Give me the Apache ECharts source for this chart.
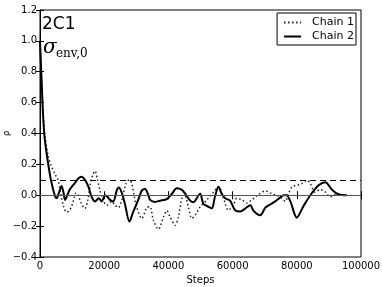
<!DOCTYPE html>
<html>
<head>
<meta charset="utf-8">
<script src="https://cdn.jsdelivr.net/npm/echarts@6/dist/echarts.min.js"></script>
<style>html,body{margin:0;padding:0;background:#fff}#c{width:382px;height:287px}</style>
</head>
<body>
<div id="c"></div>
<script>
var chain1Steps = [0,500,1000,1500,2500,3500,4600,5600,6300,7300,8300,9100,9900,10600,11200,11900,12800,14000,14800,15600,16400,17150,17900,18700,19600,20800,22300,23400,24400,25500,26800,27850,28600,29300,30100,31700,33300,34300,35300,36900,38500,39500,40500,42100,43100,44200,45200,46200,47300,48300,49900,52000,54000,55600,57200,58700,60300,61300,62900,64400,66000,68100,70200,72200,73800,75400,76400,77400,78500,80000,81600,83200,84200,85700,87300,88900,90400,91500,93000,94600];
var chain1Rho = [1.0,0.74,0.53,0.39,0.26,0.19,0.14,0.1,0.03,-0.07,-0.11,-0.10,-0.07,-0.02,0.015,0.0,-0.05,-0.086,-0.04,0.06,0.13,0.157,0.10,0.03,-0.03,-0.065,-0.04,-0.065,-0.08,-0.03,0.076,0.10,0.076,0.0,-0.075,-0.15,-0.08,-0.075,-0.16,-0.22,-0.14,-0.10,-0.14,-0.195,-0.14,-0.02,-0.01,-0.075,-0.15,-0.13,-0.075,-0.03,0.02,0.055,-0.02,-0.097,-0.06,-0.02,-0.03,-0.05,-0.03,0.005,0.028,0.01,0.0,-0.02,-0.04,0.01,0.054,0.065,0.075,0.097,0.075,0.02,0.037,0.02,-0.01,0.0,0.01,0.0];
var chain2Steps = [0,500,1000,1500,2500,3500,4600,5200,5800,6300,6700,7300,7800,8500,9350,10100,10900,12000,13000,14000,15000,16100,17150,18300,19200,20300,21000,21800,22800,23900,24500,25400,26500,27850,29000,30600,31700,32700,33800,34300,35900,37400,39500,41100,42600,44200,45200,46800,47800,49400,49900,50900,52500,53500,54600,55600,56600,57700,59200,60800,62400,63900,65500,66500,68600,70200,71700,73300,74800,75900,76800,78000,80000,82100,84200,86800,88900,91000,93000,95600];
var chain2Rho = [1.0,0.74,0.5,0.36,0.21,0.09,0.0,-0.02,0.01,0.04,0.06,0.02,-0.03,0.0,0.04,0.06,0.08,0.11,0.12,0.10,0.06,-0.01,-0.04,-0.02,-0.04,0.0,-0.01,-0.03,-0.04,0.03,0.05,0.02,-0.06,-0.17,-0.11,-0.03,0.03,0.04,0.0,-0.03,-0.043,-0.035,-0.025,0.01,0.045,0.035,0.01,-0.035,-0.045,0.0,0.01,-0.055,-0.075,-0.086,0.0,0.055,0.01,-0.02,-0.035,-0.097,-0.105,-0.086,-0.065,-0.1,-0.13,-0.08,-0.06,-0.04,-0.015,0.0,0.0,-0.04,-0.145,-0.07,0.0,0.065,0.085,0.035,0.005,0.0];
var seriesNames = ['Chain 1','Chain 2'];
var dashedLevel = 0.1;
var zeroLevel = 0.0;
var xTicks = [0,20000,40000,60000,80000,100000];
var yTicks = [-0.4,-0.2,0.0,0.2,0.4,0.6,0.8,1.0,1.2];
var panelLabel = '2C1';
var paramSymbol = 'σ';
var paramSub = 'env,0';

function pairs(xs, ys){ return xs.map(function(x,i){ return [x, ys[i]]; }); }
function fmtY(v){ var s = (Math.round(v*10)/10).toFixed(1); return s.replace('-', '\u2212'); }

var chart = echarts.init(document.getElementById('c'), null, {renderer:'canvas'});
var font = 'DejaVu Sans';
var grid = {left:40, right:21, top:10, bottom:30, show:true, borderColor:'#000', borderWidth:1, containLabel:false, outerBoundsMode:'none'};
var tickStyle = {show:true, inside:true, length:4, lineStyle:{color:'#000', width:1}};
chart.setOption({
  animation:false,
  backgroundColor:'#fff',
  grid: grid,
  legend: {
    data: seriesNames,
    orient:'vertical', right:26, top:13,
    borderColor:'#000', borderWidth:1, borderRadius:0,
    padding:[4,2,3,6], itemWidth:17, itemHeight:12, itemGap:3,
    itemStyle:{opacity:0},
    textStyle:{fontFamily:font, fontSize:11, color:'#000', padding:[0,0,0,6]},
    backgroundColor:'#fff'
  },
  xAxis: [{
    type:'value', min:xTicks[0], max:xTicks[xTicks.length-1], interval:xTicks[1]-xTicks[0],
    name:'Steps', nameLocation:'middle', nameGap:18, nameMoveOverlap:false,
    nameTextStyle:{fontFamily:font, fontSize:10, color:'#000', verticalAlign:'top'},
    axisLine:{show:true, lineStyle:{color:'#000', width:1}},
    axisTick:tickStyle, splitLine:{show:false},
    axisLabel:{fontFamily:font, fontSize:10, color:'#000', margin:4, formatter:function(v){return String(v);}}
  },{
    type:'value', position:'top', min:xTicks[0], max:xTicks[xTicks.length-1], interval:xTicks[1]-xTicks[0],
    axisLine:{show:true, lineStyle:{color:'#000'}}, axisTick:tickStyle, axisLabel:{show:false}, splitLine:{show:false}
  }],
  yAxis: [{
    type:'value', min:yTicks[0], max:yTicks[yTicks.length-1], interval:0.2,
    name:'ρ', nameLocation:'middle', nameGap:29, nameRotate:90, nameMoveOverlap:false,
    nameTextStyle:{fontFamily:font, fontSize:8, color:'#000'},
    axisLine:{show:true, lineStyle:{color:'#000', width:1}},
    axisTick:tickStyle, splitLine:{show:false},
    axisLabel:{fontFamily:font, fontSize:10, color:'#000', margin:3, formatter:fmtY}
  },{
    type:'value', position:'right', min:yTicks[0], max:yTicks[yTicks.length-1], interval:0.2,
    axisLine:{show:true, lineStyle:{color:'#000'}}, axisTick:tickStyle, axisLabel:{show:false}, splitLine:{show:false}
  }],
  series: [{
    name:seriesNames[0], type:'line', data:pairs(chain1Steps, chain1Rho),
    symbol:'none', smooth:0.3,
    lineStyle:{color:'#222', width:1.5, type:[1.5,2.5]},
    itemStyle:{color:'#222'},
    markLine:{silent:true, symbol:'none', label:{show:false},
      data:[{yAxis:zeroLevel, lineStyle:{color:'#555', width:1, type:'solid'}},
            {yAxis:dashedLevel, lineStyle:{color:'#000', width:1, type:[6,4]}}]},
    z:2
  },{
    name:seriesNames[1], type:'line', data:pairs(chain2Steps, chain2Rho),
    symbol:'none', smooth:0.3,
    lineStyle:{color:'#000', width:2, type:'solid'},
    itemStyle:{color:'#000'},
    z:3
  }],
  graphic: [
    {type:'text', left:42, top:16, style:{text:panelLabel, fontFamily:font, fontSize:17, fill:'#000'}},
    {type:'text', left:43, top:38, style:{text:paramSymbol, fontFamily:'DejaVu Serif', fontStyle:'italic', fontSize:20, fill:'#000'}},
    {type:'text', left:56, top:48, style:{text:paramSub, fontFamily:'DejaVu Serif', fontSize:12, fill:'#000'}}
  ]
});
</script>
</body>
</html>
